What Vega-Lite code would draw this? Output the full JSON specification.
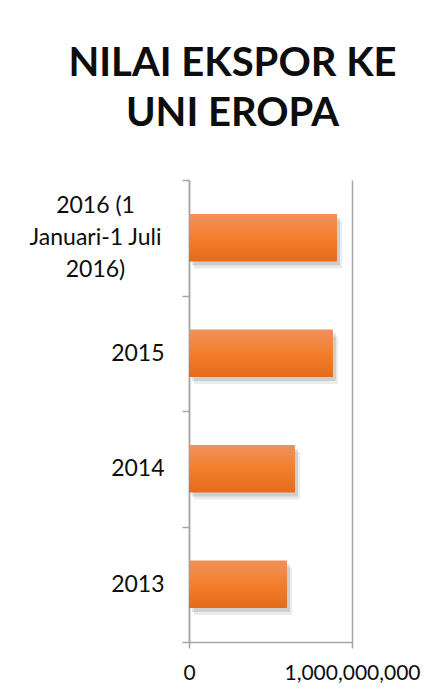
{
  "$schema": "https://vega.github.io/schema/vega-lite/v6.json",
  "autosize": "none",
  "width": 163,
  "height": 462,
  "padding": {"left": 189, "top": 180, "right": 88, "bottom": 54},
  "background": "white",
  "title": {
    "text": ["NILAI EKSPOR KE", "UNI EROPA"],
    "font": "Lato",
    "fontSize": 40,
    "fontWeight": "bold",
    "color": "#0d0d0d",
    "lineHeight": 50,
    "anchor": "middle",
    "frame": "group",
    "dx": -38,
    "offset": 35
  },
  "data": {
    "values": [
      {"periode": "2016 (1 Januari-1 Juli 2016)", "nilai": 908000000},
      {"periode": "2015", "nilai": 883000000},
      {"periode": "2014", "nilai": 650000000},
      {"periode": "2013", "nilai": 601000000}
    ]
  },
  "encoding": {
    "y": {
      "field": "periode",
      "type": "nominal",
      "sort": null,
      "title": null,
      "scale": {"paddingInner": 0, "paddingOuter": 0},
      "axis": {
        "domainColor": "#a6a6a6",
        "domainWidth": 1.5,
        "tickColor": "#a6a6a6",
        "tickWidth": 1.5,
        "tickSize": 7,
        "tickBand": "extent",
        "labelFont": "Lato",
        "labelFontSize": 23,
        "labelColor": "#0d0d0d",
        "labelLineHeight": 32,
        "labelLimit": 300,
        "labelBaseline": "middle",
        "labelExpr": "datum.value == '2016 (1 Januari-1 Juli 2016)' ? ['2016 (1', 'Januari-1 Juli', '2016)'] : datum.value",
        "labelAlign": {"condition": {"test": "datum.value == '2016 (1 Januari-1 Juli 2016)'", "value": "center"}, "value": "right"},
        "labelPadding": {"condition": {"test": "datum.value == '2016 (1 Januari-1 Juli 2016)'", "value": 87}, "value": 18},
        "labelOffset": {"condition": {"test": "datum.value == '2016 (1 Januari-1 Juli 2016)'", "value": -32}, "value": 0}
      }
    },
    "x": {
      "field": "nilai",
      "type": "quantitative",
      "title": null,
      "scale": {"domain": [0, 1000000000], "nice": false},
      "axis": {
        "values": [0, 1000000000],
        "format": ",d",
        "domainColor": "#a6a6a6",
        "domainWidth": 1.5,
        "tickColor": "#a6a6a6",
        "tickWidth": 1.5,
        "tickSize": 6,
        "grid": true,
        "gridColor": "#a6a6a6",
        "gridWidth": 1.5,
        "labelFont": "Lato",
        "labelFontSize": 21,
        "labelColor": "#0d0d0d",
        "labelPadding": 14,
        "labelFlush": false
      }
    }
  },
  "layer": [
    {
      "mark": {"type": "bar", "height": {"band": 0.41}, "color": "#000000", "opacity": 0.12, "xOffset": 3, "yOffset": 4}
    },
    {
      "mark": {"type": "bar", "height": {"band": 0.41}, "color": "#000000", "opacity": 0.08, "xOffset": 5, "yOffset": 7}
    },
    {
      "mark": {
        "type": "bar",
        "height": {"band": 0.41},
        "color": {
          "gradient": "linear",
          "x1": 0, "y1": 0, "x2": 0, "y2": 1,
          "stops": [
            {"offset": 0, "color": "#f0925c"},
            {"offset": 0.5, "color": "#f47e2c"},
            {"offset": 1, "color": "#e46b19"}
          ]
        }
      }
    }
  ],
  "config": {"view": {"stroke": null}}
}
